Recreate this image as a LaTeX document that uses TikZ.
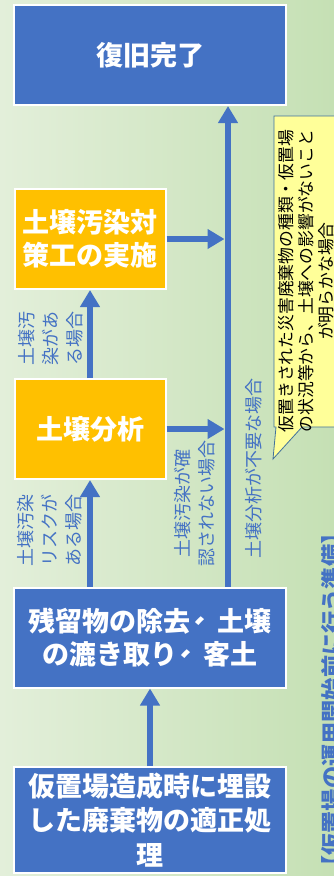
\documentclass[tikz,border=0pt]{standalone}
\usepackage{fontspec}
\newfontfamily\jp{Noto Sans CJK JP}
\usetikzlibrary{arrows.meta}
\definecolor{boxblue}{HTML}{4472C4}
\definecolor{boxorange}{HTML}{FFC000}
\definecolor{calloutfill}{HTML}{FFFF99}
\definecolor{calloutline}{HTML}{41719C}
\definecolor{bgleft}{HTML}{E3EFDA}
\definecolor{bgright}{HTML}{C5E0B4}
\newcommand\jcomma{\raisebox{0.3em}{\makebox[1em][l]{\kern-0.45em\reflectbox{、}}}}
\begin{document}
\begin{tikzpicture}[x=1pt,y=-1pt,
  flowbox/.style={draw=white, line width=2pt, inner sep=0pt, align=center, text=white,
    font=\jp\bfseries\fontsize{27}{33}\selectfont},
  bluebox/.style={flowbox, fill=boxblue, minimum width=272pt, minimum height=100pt},
  orangebox/.style={flowbox, fill=boxorange, minimum width=151pt, minimum height=100pt},
  flowarrow/.style={draw=boxblue, line width=6.5pt, -{Triangle[width=19pt,length=17pt]}},
  lbl/.style={rotate=90, align=center, text=boxblue, inner sep=0pt,
    font=\jp\fontsize{18}{24}\selectfont},
]
\useasboundingbox (0,0) rectangle (334,876);
\clip (0,0) rectangle (334,876);
\shade[left color=bgleft, right color=bgright] (0,0) rectangle (334,876);

% title (cut off at the right edge)
\node[rotate=90, inner sep=0pt, text=boxblue, font=\jp\bfseries\fontsize{22.2}{26}\selectfont]
  (title) at (332,700) {【仮置場の運用開始前に行う準備】};

% boxes
\node[bluebox] (b1) at (150,55) {復旧完了};
\node[orangebox] (b3) at (90,239) {土壌汚染対\\策工の実施};
\node[orangebox] (b4) at (90,429) {土壌分析};
\node[bluebox] (b5) at (150,637.5) {残留物の除去\jcomma 土壌\\の漉き取り\jcomma 客土};
\node[bluebox, minimum height=106pt, font=\jp\bfseries\fontsize{27}{34.5}\selectfont]
  (b6) at (150,820) {仮置場造成時に埋設\\した廃棄物の適正処\\理};

% connectors
\coordinate (vx) at (228,0);
\coordinate (vxl) at (224.5,0);
\draw[flowarrow] (b6.north) -- (b5.south);
\draw[flowarrow] (b5.north -| b4.south) -- (b4.south);
\draw[flowarrow] (b4.north) -- (b3.south);
\draw[flowarrow] (b5.north -| vx) -- (b1.south -| vx);
\draw[flowarrow] (b3.east) -- (b3.east -| vxl);
\draw[flowarrow] (b4.east) -- (b4.east -| vxl);

% labels
\node[lbl] (l1) at (50,530) {土壌汚染\\リスクが\\ある場合};
\node[lbl] (l2) at (51,338) {土壌汚\\染があ\\る場合};
\node[lbl] (l3) at (195,503) {土壌汚染が確\\認されない場合};
\node[lbl] (l4) at (254,468) {土壌分析が不要な場合};

% callout
\draw[draw=calloutline, fill=calloutfill, line width=0.8pt]
  (345,116) -- (274,116) -- (274,427) -- (276,427) -- (273,459) -- (302,427) -- (345,427) -- cycle;
\node[rotate=90, align=center, inner sep=0pt, font=\jp\fontsize{16.8}{20}\selectfont]
  (ct) at (306,281) {仮置きされた災害廃棄物の種類・仮置場\\の状況等から、土壌への影響がないこと\\が明らかな場合};
\end{tikzpicture}
\end{document}
